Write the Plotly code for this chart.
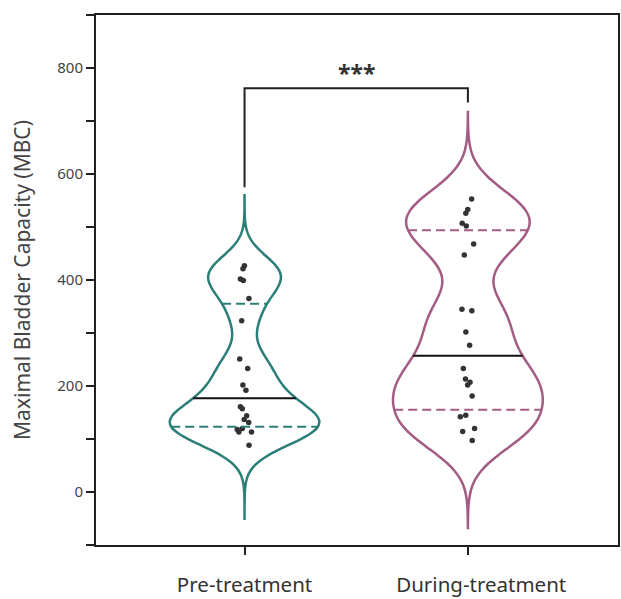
import numpy as np
import plotly.graph_objects as go

# ---------------- data ----------------
groups = ["Pre-treatment", "During-treatment"]
pre_vals = [421, 427, 402, 399, 365, 323, 251, 233, 202, 192,
            157, 161, 144, 137, 131, 118, 113, 120, 113, 88]
during_vals = [553, 533, 526, 507, 502, 468, 447, 342, 345, 302, 277,
               233, 213, 207, 202, 181, 145, 142, 120, 114, 97]
medians = [177, 257]
q1_vals = [123, 155]
q3_vals = [355, 494]
span_lo = [-53, -68]
span_hi = [560, 717]
bandwidths = [33, 47]
y_tick_vals = [0, 200, 400, 600, 800]
sig_label = "***"
bracket_base = [575, 735]
bracket_top = 762
sig_y = 790

# ---------------- styling ----------------
colors = ["#2b7f78", "#a35c84"]
VW = 0.67          # violin width (data units)
AX = "#231f20"
FONT = "Noto Sans"

all_vals = [pre_vals, during_vals]


def kde(vals, bw):
    v = np.asarray(vals, float)

    def f(x):
        x = np.atleast_1d(np.asarray(x, float))[:, None]
        k = np.exp(-0.5 * ((x - v) / bw) ** 2) / np.sqrt(2 * np.pi)
        return k.sum(axis=1) / (len(v) * bw)
    return f


def max_kde(f, bw, lo, hi):
    dist = hi - lo
    n = int(np.ceil(dist / (bw / 3)))
    step = dist / n
    t = lo + step * np.arange(n + 1)
    return f(t).max()


fig = go.Figure()

for i, (name, vals) in enumerate(zip(groups, all_vals)):
    fig.add_trace(go.Violin(
        x0=i, y=vals, name=name,
        bandwidth=bandwidths[i],
        spanmode="manual", span=[span_lo[i], span_hi[i]],
        width=VW, scalemode="width",
        line=dict(color=colors[i], width=2.5),
        fillcolor="rgba(0,0,0,0)",
        points="all", pointpos=0, jitter=0.12,
        marker=dict(color="#333333", size=5.5, line=dict(width=0)),
        box_visible=False, meanline_visible=False,
        showlegend=False, hoverinfo="skip",
    ))

for i, vals in enumerate(all_vals):
    f = kde(vals, bandwidths[i])
    mk = max_kde(f, bandwidths[i], span_lo[i], span_hi[i])
    for val, col, dash in [(q1_vals[i], colors[i], "9px,5px"),
                           (q3_vals[i], colors[i], "9px,5px"),
                           (medians[i], "#111111", "solid")]:
        hw = VW / 2 * f(val)[0] / mk
        fig.add_trace(go.Scatter(
            x=[i - hw, i + hw], y=[val, val], mode="lines",
            line=dict(color=col, width=2, dash=dash),
            showlegend=False, hoverinfo="skip"))

# significance bracket
fig.add_trace(go.Scatter(
    x=[0, 0, 1, 1], y=[bracket_base[0], bracket_top, bracket_top, bracket_base[1]],
    mode="lines", line=dict(color=AX, width=2),
    showlegend=False, hoverinfo="skip"))
fig.add_annotation(x=0.5, y=sig_y, text="<b>" + sig_label + "</b>",
                   showarrow=False, font=dict(family=FONT, size=23, color="#333333"))

fig.update_layout(
    width=621, height=599,
    margin=dict(l=96, r=1, t=15, b=54),
    plot_bgcolor="white", paper_bgcolor="white",
    font=dict(family=FONT, color="#444444"),
)
tick_text = [groups[0], "&nbsp;" * 5 + groups[1]]
fig.update_xaxes(
    range=[-0.665, 1.672], tickmode="array", tickvals=[0, 1], ticktext=tick_text,
    showgrid=False, zeroline=False,
    showline=True, linewidth=2, linecolor=AX, mirror=True,
    ticks="outside", ticklen=8, tickwidth=2, tickcolor=AX,
    ticklabelstandoff=12,
    tickfont=dict(family=FONT, size=20.5, color="#333333"),
)
fig.update_yaxes(
    range=[-100, 900], tickmode="array", tickvals=y_tick_vals,
    showgrid=False, zeroline=False,
    showline=True, linewidth=2, linecolor=AX, mirror=True,
    ticks="outside", ticklen=8, tickwidth=2, tickcolor=AX,
    minor=dict(tickmode="linear", tick0=0, dtick=100, ticks="outside",
               ticklen=8, tickwidth=2, tickcolor=AX),
    tickfont=dict(family=FONT, size=15, color="#444444"),
    title=dict(text="Maximal Bladder Capacity (MBC)", standoff=21,
               font=dict(family=FONT, size=21, color="#444444")),
)

fig.write_html("out.html", config={"displayModeBar": False},
               post_script="document.body.style.margin='0';")
